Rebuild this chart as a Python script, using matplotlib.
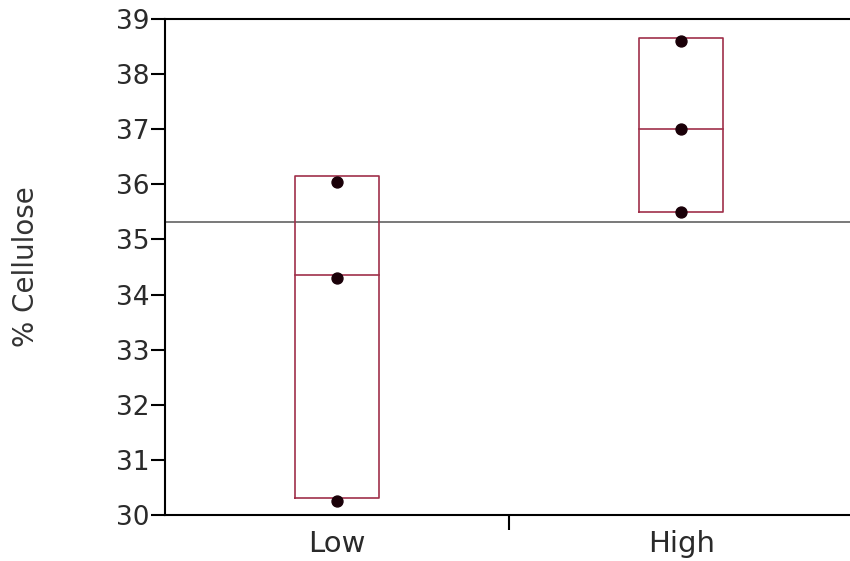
import matplotlib
matplotlib.use('Agg')
import matplotlib.pyplot as plt
import matplotlib.transforms as mtransforms
import numpy as np

plt.rcParams['font.family'] = ['DejaVu Sans']

groups = ['Low', 'High']
# observed points
low_pts = [36.05, 34.3, 30.25]
high_pts = [38.6, 37.0, 35.5]
# box: bottom, median, top
low_box = [30.3, 34.35, 36.15]
high_box = [35.5, 37.0, 38.65]
grand_mean = 35.32
yticks = [30, 31, 32, 33, 34, 35, 36, 37, 38, 39]

box_col = '#a0304a'
pts = [low_pts, high_pts]
boxes = [low_box, high_box]
xpos = [0.5, 1.5]
w = 0.245

fig = plt.figure(figsize=(8.5, 5.61), dpi=100)
ax = fig.add_axes([0.194, 0.082, 0.81, 0.884])

for x, p, b in zip(xpos, pts, boxes):
    lo, med, hi = b
    ax.plot([x - w/2, x + w/2, x + w/2, x - w/2, x - w/2],
            [lo, lo, hi, hi, lo], color=box_col, lw=1.2, zorder=3)
    ax.plot([x - w/2, x + w/2], [med, med], color=box_col, lw=1.2, zorder=3)
    ax.scatter([x]*len(p), p, s=62, color='#1a0008', zorder=4)

ax.axhline(grand_mean, color='#6e6e6e', lw=1.3, zorder=2)

ax.set_xlim(0, 2)
ax.set_ylim(30, 39)
ax.set_yticks(yticks)
ax.set_yticklabels([str(t) for t in yticks], fontsize=19, color='#2a2a2a')
ax.set_xticks([1])
ax.set_xticklabels([''])
ax.tick_params(axis='y', length=10, width=1.5, direction='out', pad=1)
ax.tick_params(axis='x', length=11, width=1.5, direction='out')

trans = mtransforms.blended_transform_factory(ax.transData, ax.transAxes)
for x, g in zip(xpos, groups):
    ax.text(x, -0.075, g, ha='center', va='baseline', fontsize=21,
            color='#2a2a2a', transform=trans)

ax.spines['right'].set_visible(False)
for s in ['left', 'bottom', 'top']:
    ax.spines[s].set_linewidth(1.5)

fig.text(0.031, 0.524, '% Cellulose', rotation=90, ha='center', va='center',
         fontsize=20, color='#333333')

fig.savefig('out.png', dpi=100)
